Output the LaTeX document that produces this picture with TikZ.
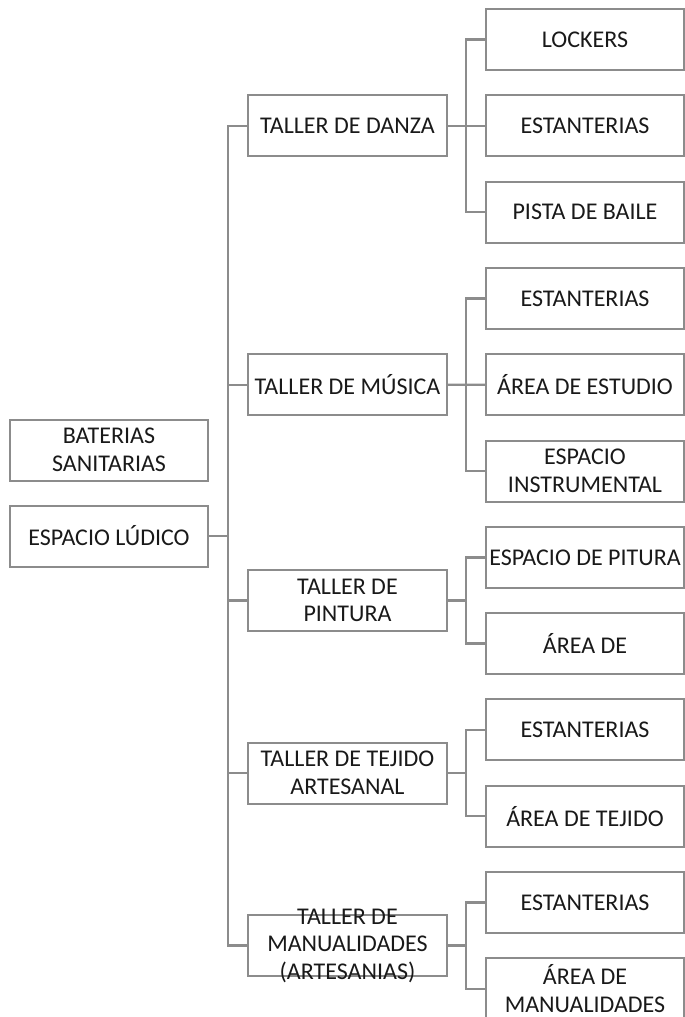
\documentclass[tikz,border=0pt]{standalone}
\usepackage{fontspec}
\setmainfont{Carlito}
\usetikzlibrary{positioning}
\tikzset{
  box/.style ={draw=black!45, line width=2pt, minimum height=61pt, minimum width=198pt, inner sep=0pt, outer sep=0pt, align=center, text=black!90},
  lnk/.style ={draw=black!45, line width=2.4pt},
  txt/.style ={align=center, text=black!90, inner sep=0pt},
}

\begin{document}
\begin{tikzpicture}[x=1pt, y=-1pt, font=\fontsize{24}{27.5}\selectfont, node distance=25.3pt]
  \useasboundingbox (0,0) rectangle (685,1017);
  % right column
  \node[box] (lock) at (585,39.5) {LOCKERS};
  \node[box, below=of lock] (est1) {ESTANTERIAS};
  \node[box, below=of est1] (pista) {PISTA DE BAILE};
  \node[box, below=of pista] (est2) {ESTANTERIAS};
  \node[box, below=of est2] (estu) {ÁREA DE ESTUDIO};
  \node[box, below=of estu] (inst) {ESPACIO\\INSTRUMENTAL};
  \node[box, below=of inst] (espi) {ESPACIO DE PITURA};
  \node[box, below=of espi] (arpi) {ÁREA DE};
  \node[box, below=of arpi] (est3) {ESTANTERIAS};
  \node[box, below=of est3] (teji) {ÁREA DE TEJIDO};
  \node[box, below=of teji] (est4) {ESTANTERIAS};
  \node[box, below=of est4] (arma) {ÁREA DE\\MANUALIDADES};
  % talleres
  \node[box, minimum width=199pt] (danza) at (347.5,125.8) {TALLER DE DANZA};
  \node[box, minimum width=199pt] (musica) at (347.5,384.7) {TALLER DE MÚSICA};
  \node[box, minimum width=199pt] (pint) at (347.5,600.5) {TALLER DE\\PINTURA};
  \node[box, minimum width=199pt] (tej) at (347.5,773) {TALLER DE TEJIDO\\ARTESANAL};
  \node[box, minimum width=199pt] (man) at (347.5,945.6) {};
  \node[txt] (mant) at (man) {TALLER DE\\MANUALIDADES\\(ARTESANIAS)};
  % izquierda
  \node[box] (ban) at (109,450) {BATERIAS\\SANITARIAS};
  \node[box] (lud) at (109,536) {ESPACIO LÚDICO};

  % ramas
  \draw[lnk] (danza.east) -- ++(19,0) |- (lock.west);
  \draw[lnk] (danza.east) -- (est1.west);
  \draw[lnk] (danza.east) -- ++(19,0) |- (pista.west);
  \draw[lnk] (musica.east) -- ++(19,0) |- (est2.west);
  \draw[lnk] (musica.east) -- (estu.west);
  \draw[lnk] (musica.east) -- ++(19,0) |- (inst.west);
  \draw[lnk] (pint.east) -- ++(19,0) |- (espi.west);
  \draw[lnk] (pint.east) -- ++(19,0) |- (arpi.west);
  \draw[lnk] (tej.east) -- ++(19,0) |- (est3.west);
  \draw[lnk] (tej.east) -- ++(19,0) |- (teji.west);
  \draw[lnk] (man.east) -- ++(19,0) |- (est4.west);
  \draw[lnk] (man.east) -- ++(19,0) |- (arma.west);
  \draw[lnk] (danza.west) -- ++(-20,0) |- (man.west);
  \draw[lnk] (musica.west) -- ++(-20,0);
  \draw[lnk] (pint.west) -- ++(-20,0);
  \draw[lnk] (tej.west) -- ++(-20,0);
  \draw[lnk] (lud.east) -- ++(20,0);
\end{tikzpicture}
\end{document}
